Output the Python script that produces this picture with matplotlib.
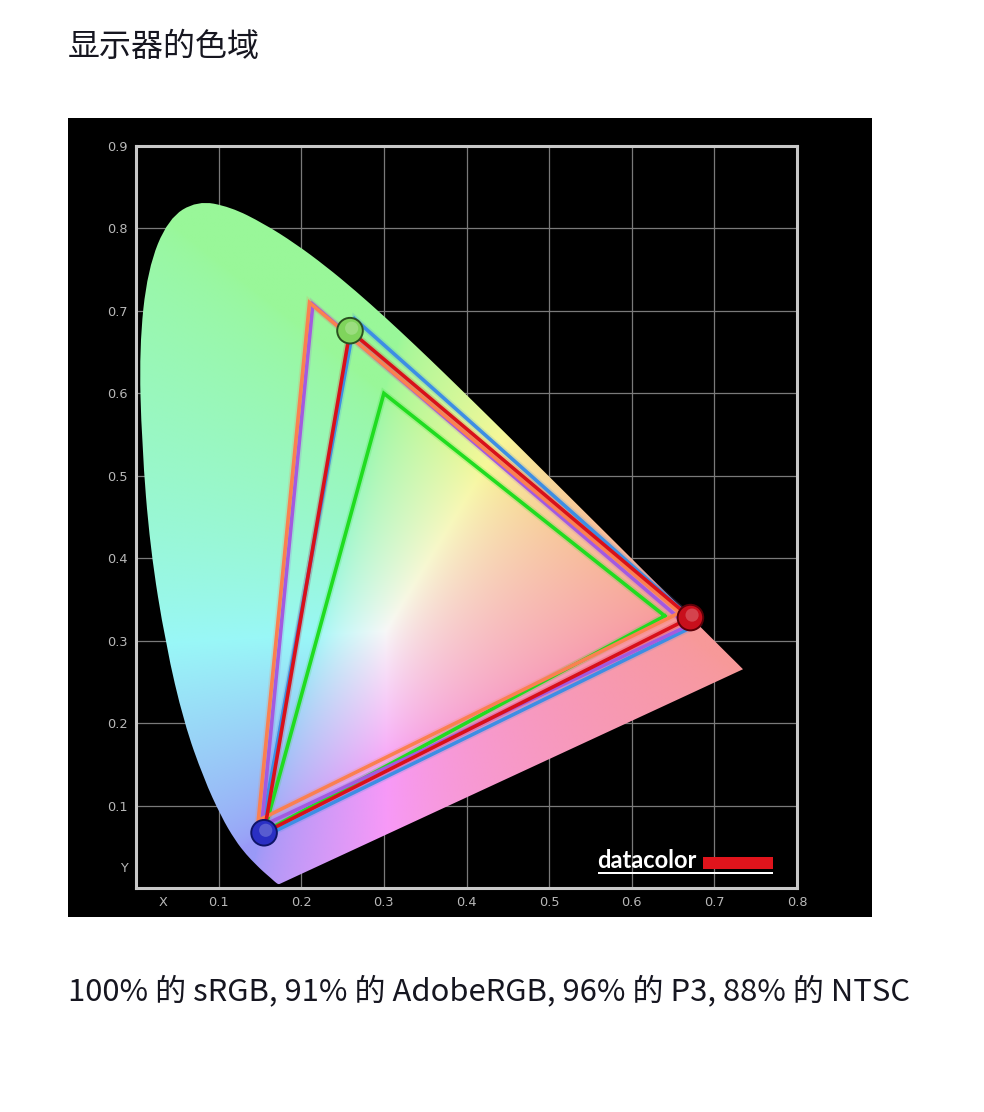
import matplotlib
matplotlib.use("Agg")
import matplotlib.pyplot as plt
from matplotlib.patches import PathPatch, Rectangle
from matplotlib.path import Path
import numpy as np

plt.rcParams['font.family'] = ['Noto Sans CJK SC', 'DejaVu Sans']

# spectral locus outline (CIE 1931, 380-700 nm), left flank
locus_x = [0.1741, 0.1740, 0.1738, 0.1736, 0.1733, 0.1730, 0.1726, 0.1721,
           0.1714, 0.1703, 0.1689, 0.1669, 0.1644, 0.1611, 0.1566, 0.1510,
           0.1440, 0.1340, 0.1200, 0.1030, 0.0820, 0.0580, 0.0360, 0.0170,
           0.0070, 0.0039, 0.0139, 0.0389, 0.0743, 0.1142, 0.1547, 0.1929,
           0.2296, 0.2658, 0.3016, 0.3373, 0.3731, 0.4087, 0.4441, 0.4788,
           0.5125, 0.5448, 0.5752, 0.6029, 0.6270, 0.6482, 0.6658, 0.6801,
           0.6915, 0.7006, 0.7079, 0.7140, 0.7190, 0.7230, 0.7260, 0.7283,
           0.7300, 0.7311, 0.7320, 0.7327, 0.7334, 0.7340, 0.7344, 0.7346,
           0.7347]
locus_y = [0.0050, 0.0050, 0.0049, 0.0049, 0.0048, 0.0048, 0.0048, 0.0048,
           0.0051, 0.0058, 0.0069, 0.0086, 0.0109, 0.0138, 0.0177, 0.0227,
           0.0297, 0.0399, 0.0578, 0.0868, 0.1327, 0.2007, 0.2950, 0.4127,
           0.5384, 0.6548, 0.7502, 0.8120, 0.8338, 0.8262, 0.8059, 0.7816,
           0.7543, 0.7243, 0.6923, 0.6589, 0.6245, 0.5896, 0.5547, 0.5202,
           0.4866, 0.4544, 0.4242, 0.3965, 0.3725, 0.3514, 0.3340, 0.3197,
           0.3083, 0.2993, 0.2920, 0.2859, 0.2809, 0.2770, 0.2740, 0.2717,
           0.2700, 0.2689, 0.2680, 0.2673, 0.2666, 0.2660, 0.2656, 0.2654,
           0.2653]

# gamut triangles (R, G, B corners)
ntsc_x = [0.668, 0.214, 0.152]
ntsc_y = [0.318, 0.708, 0.075]
adobe_x = [0.658, 0.210, 0.148]
adobe_y = [0.334, 0.710, 0.082]
p3_x = [0.680, 0.265, 0.150]
p3_y = [0.320, 0.690, 0.060]
srgb_x = [0.640, 0.300, 0.155]
srgb_y = [0.330, 0.600, 0.068]
display_x = [0.671, 0.259, 0.155]
display_y = [0.328, 0.676, 0.067]

x_ticks = [0.033, 0.1, 0.2, 0.3, 0.4, 0.5, 0.6, 0.7, 0.8]
x_labels = ['X', '0.1', '0.2', '0.3', '0.4', '0.5', '0.6', '0.7', '0.8']
y_ticks = [0.025, 0.1, 0.2, 0.3, 0.4, 0.5, 0.6, 0.7, 0.8, 0.9]
y_labels = ['Y', '0.1', '0.2', '0.3', '0.4', '0.5', '0.6', '0.7', '0.8', '0.9']

title = '显示器的色域'
caption = '100% 的 sRGB, 91% 的 AdobeRGB, 96% 的 P3, 88% 的 NTSC'


def xy_colors(gx, gy):
    yy = np.maximum(gy, 1e-4)
    X = gx / yy
    Y = np.ones_like(gx)
    Z = (1 - gx - gy) / yy
    r = 3.2406 * X - 1.5372 * Y - 0.4986 * Z
    g = -0.9689 * X + 1.8758 * Y + 0.0415 * Z
    b = (0.0557 * X - 0.2040 * Y + 1.0570 * Z) * 0.85
    rgb = np.clip(np.dstack([r, g, b]), 0, None)
    rgb = rgb / np.maximum(rgb.max(axis=2, keepdims=True), 1e-6)
    rgb = rgb ** (1 / 1.6)
    rgb = 0.60 + 0.37 * rgb
    return np.clip(rgb, 0, 1)


def smooth_outline(xs, ys):
    # quadratic curves through segment midpoints, corners as control points
    pts = np.column_stack([xs, ys])
    pts = np.vstack([pts, pts[:1]])
    mids = (pts[:-1] + pts[1:]) / 2
    verts = [mids[-1]]
    codes = [Path.MOVETO]
    for i in range(len(mids)):
        verts += [pts[i], mids[i]]
        codes += [Path.CURVE3, Path.CURVE3]
    return Path(verts, codes)


fig = plt.figure(figsize=(9.84, 11.12), dpi=100)
fig.patch.set_facecolor('white')

# black panel behind the diagram
fig.add_artist(Rectangle((68 / 984, 1 - 917 / 1112), 804 / 984, 799 / 1112,
                         transform=fig.transFigure, facecolor='black',
                         edgecolor='none', zorder=0))

ax = fig.add_axes([136 / 984, 1 - 888 / 1112, 661 / 984, 742 / 1112])
ax.set_facecolor('black')
ax.set_xlim(0, 0.8)
ax.set_ylim(0, 0.9)

for v in [0.1, 0.2, 0.3, 0.4, 0.5, 0.6, 0.7]:
    ax.axvline(v, color='#7a7a7a', lw=0.9, zorder=1)
for v in [0.1, 0.2, 0.3, 0.4, 0.5, 0.6, 0.7, 0.8]:
    ax.axhline(v, color='#7a7a7a', lw=0.9, zorder=1)

gx, gy = np.meshgrid(np.linspace(0, 0.8, 400), np.linspace(0, 0.9, 450))
img = ax.imshow(xy_colors(gx, gy), origin='lower', extent=(0, 0.8, 0, 0.9),
                aspect='auto', zorder=2, interpolation='bilinear')
locus = PathPatch(smooth_outline(locus_x, locus_y), facecolor='none',
                  edgecolor='none', transform=ax.transData)
ax.add_patch(locus)
img.set_clip_path(locus)

gamuts = [
    (srgb_x, srgb_y, '#20dc20'),
    (p3_x, p3_y, '#3d8ee4'),
    (ntsc_x, ntsc_y, '#a35ae0'),
    (adobe_x, adobe_y, '#fb8050'),
    (display_x, display_y, '#d8101a'),
]
for gxs, gys, col in gamuts:
    px = gxs + gxs[:1]
    py = gys + gys[:1]
    ax.plot(px, py, color=col, lw=5, alpha=0.18, zorder=3,
            solid_joinstyle='miter')
    ax.plot(px, py, color=col, lw=2.6, zorder=4, solid_joinstyle='miter')

# display primaries as glossy balls
ball_face = ['#c80f1c', '#7fd45c', '#2a2fc4']
ball_edge = ['#5e0008', '#2a5020', '#0e1468']
ax.scatter(display_x, display_y, s=340, c=ball_face, edgecolors=ball_edge,
           linewidths=1.4, zorder=6)
ax.scatter([v + 0.002 for v in display_x], [v + 0.003 for v in display_y],
           s=90, c='white', alpha=0.22, edgecolors='none', zorder=7)

for s in ax.spines.values():
    s.set_color('#c8c8c8')
    s.set_linewidth(2.2)
    s.set_zorder(5)

ax.set_xticks(x_ticks)
ax.set_xticklabels(x_labels)
ax.set_yticks(y_ticks)
ax.set_yticklabels(y_labels)
ax.tick_params(length=0, colors='#b8b8b8', labelsize=9.3, pad=6)
for lab in ax.get_xticklabels() + ax.get_yticklabels():
    lab.set_family('DejaVu Sans')

# datacolor logo
fig.text(597 / 984, 1 - 861 / 1112, 'datacolor', color='white',
         fontsize=17, fontweight='bold', family='Lato',
         ha='left', va='center')
fig.add_artist(Rectangle((703 / 984, 1 - 869 / 1112), 70 / 984, 12 / 1112,
                         transform=fig.transFigure, facecolor='#e0141c',
                         edgecolor='none'))
fig.add_artist(Rectangle((598 / 984, 1 - 874 / 1112), 175 / 984, 2.5 / 1112,
                         transform=fig.transFigure, facecolor='white',
                         edgecolor='none'))

fig.text(68 / 984, 1 - 47 / 1112, title, fontsize=23, color='#161620',
         ha='left', va='center')
fig.text(68 / 984, 1 - 991 / 1112, caption, fontsize=22.3, color='#161620',
         ha='left', va='center')

fig.savefig('out.png', dpi=100, facecolor='white')
